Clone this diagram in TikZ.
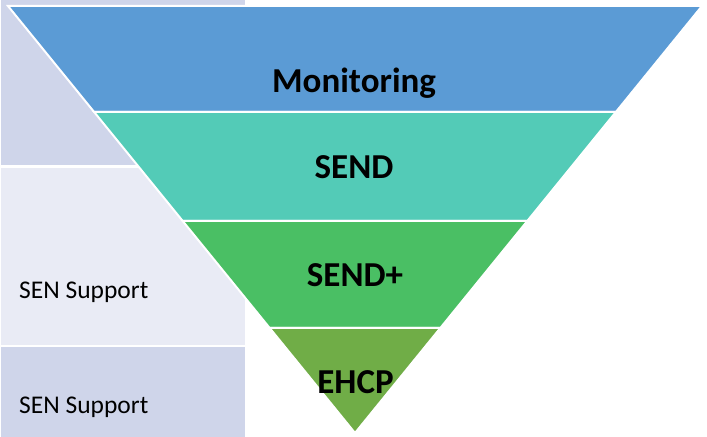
\documentclass[tikz,border=0pt]{standalone}
\usepackage{fontspec}
\setmainfont{Carlito}
\usetikzlibrary{calc}
\definecolor{boxA}{HTML}{CFD5EA}
\definecolor{boxB}{HTML}{E9EBF5}
\definecolor{monC}{HTML}{5B9BD5}
\definecolor{sendC}{HTML}{53CBB7}
\definecolor{sendpC}{HTML}{4ABF64}
\definecolor{ehcpC}{HTML}{70AD47}
\tikzset{
  sidebox/.style={draw=white, line width=1.5bp},
  slice/.style={draw=white, line width=2bp, line join=miter},
  biglabel/.style={font=\fontsize{35bp}{40bp}\selectfont\bfseries, anchor=base, inner sep=0pt},
  sidelabel/.style={font=\fontsize{25.5bp}{30bp}\selectfont, anchor=base west, inner sep=0pt}
}
\begin{document}
\begin{tikzpicture}[x=1bp, y=-1bp]
\useasboundingbox (0,0) rectangle (707,437);
\begin{scope}
\clip (0,0) rectangle (707,437);
% side boxes
\fill[boxA] (0,-20) rectangle (245,165.5);
\fill[boxB] (0,168) rectangle (245,344.5);
\fill[boxA] (0,347) rectangle (245,460);
\draw[white, line width=1.5bp] (0,-20) -- (0,460);
% triangle corners
\coordinate (TL) at (8,6);
\coordinate (TR) at (702,6);
\coordinate (AP) at (355,433);
\coordinate (L1) at ($(TL)!0.248!(AP)$);
\coordinate (R1) at ($(TR)!0.248!(AP)$);
\coordinate (L2) at ($(TL)!0.503!(AP)$);
\coordinate (R2) at ($(TR)!0.503!(AP)$);
\coordinate (L3) at ($(TL)!0.754!(AP)$);
\coordinate (R3) at ($(TR)!0.754!(AP)$);
\filldraw[slice, fill=monC] (TL) -- (TR) -- (R1) -- (L1) -- cycle;
\filldraw[slice, fill=sendC] (L1) -- (R1) -- (R2) -- (L2) -- cycle;
\filldraw[slice, fill=sendpC] (L2) -- (R2) -- (R3) -- (L3) -- cycle;
\filldraw[slice, fill=ehcpC] (L3) -- (R3) -- (AP) -- cycle;
\end{scope}
% labels
\node[biglabel] (mon) at (354,92.3) {Monitoring};
\node[biglabel] (send) at (354,178.3) {SEND};
\node[biglabel] (sendp) at (355,287) {SEND+};
\node[biglabel] (ehcp) at (355.5,393) {EHCP};
\node[sidelabel] (sen1) at (19,298.3) {SEN Support};
\node[sidelabel] (sen2) at (19,413.3) {SEN Support};
\end{tikzpicture}
\end{document}
